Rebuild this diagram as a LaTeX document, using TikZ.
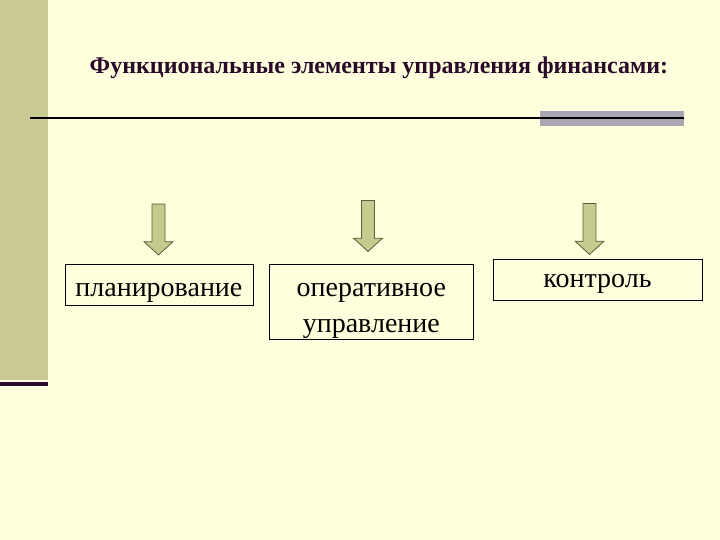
\documentclass[tikz,border=0pt]{standalone}
\usepackage{fontspec}
\setmainfont{Liberation Serif}
\usepackage{xcolor}
\usepackage{tikz}
\usetikzlibrary{shapes.arrows, positioning}

\definecolor{slidebg}{HTML}{FFFFDD}
\definecolor{bandcol}{HTML}{C9C996}
\definecolor{barcol}{HTML}{2A0A2A}
\definecolor{titlecol}{HTML}{2A0A2A}
\definecolor{greycol}{HTML}{A9A5B5}
\definecolor{arrowfill}{HTML}{C6CA8E}
\definecolor{arrowline}{HTML}{5C5C3C}

\begin{document}
\begin{tikzpicture}[
  x=1pt, y=-1pt,
  box/.style={rectangle, draw, fill=slidebg, line width=0.8pt, font=\fontsize{28}{35.6}\selectfont, text centered, inner sep=0pt},
  downarrow/.style={single arrow, draw=arrowline, fill=arrowfill, line width=0.8pt, minimum height=51pt, minimum width=29pt, single arrow head extend=8pt, single arrow tip angle=95, inner xsep=0pt, inner ysep=6pt, rotate=-90},
  heading/.style={font=\fontsize{24}{28}\selectfont\bfseries, text=titlecol}
]

% slide background and left band
\fill[slidebg] (0,0) rectangle (720,540);
\useasboundingbox (0,0) rectangle (720,540);
\fill[bandcol] (0,0) rectangle (48,380);
\fill[barcol] (0,382) rectangle (48,386);

% title and rule
\node[heading] (title) at (379,68) {Функциональные элементы управления финансами:};
\fill[greycol] (540,111) rectangle (684,126);
\coordinate (ruleL) at (30,118);
\coordinate (ruleR) at (684,118);
\draw[line width=2pt, black] (ruleL) -- (ruleR);

% boxes
\node[box, minimum width=188pt, minimum height=41.4pt, text height=22.4pt, text depth=0pt] (plan) at (158.9,285) {планирование};
\node[box, minimum width=204pt, minimum height=75pt, text width=204pt, align=center, text height=16pt, text depth=26pt] (oper) at (371.3,301.7) {оперативное\\управление};
\node[box, minimum width=209pt, minimum height=41pt, text height=15pt, text depth=0pt] (ctrl) at (597.5,279.5) {контроль};

% arrows
\node[downarrow] (arrPlan) at (158.5,226.5) {};
\node[downarrow] (arrOper) at (368,223) {};
\node[downarrow] (arrCtrl) at (589.5,226) {};

\end{tikzpicture}
\end{document}
